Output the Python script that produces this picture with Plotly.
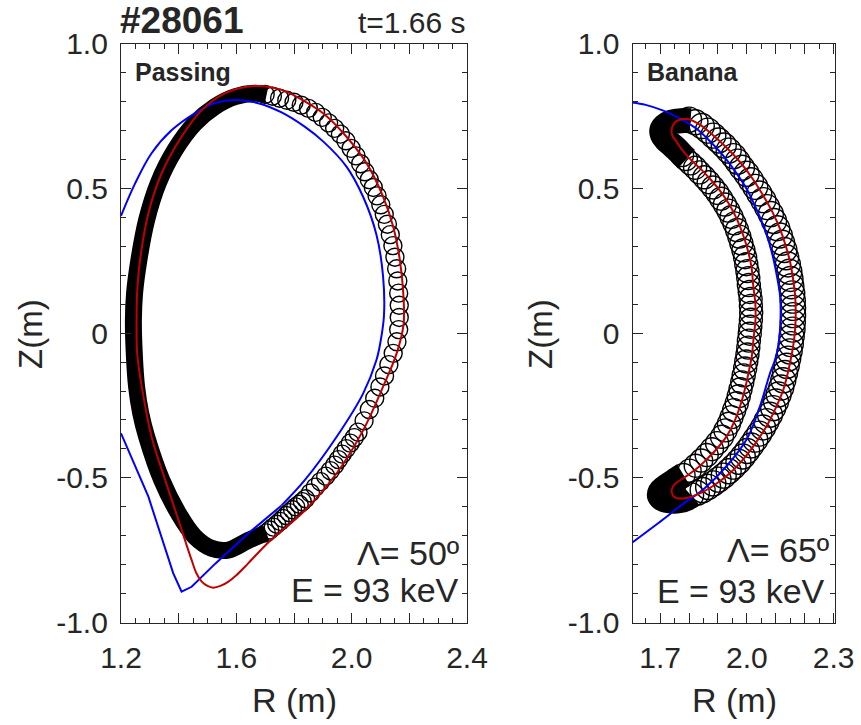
import plotly.graph_objects as go

# ---------------- data ----------------
# Passing orbit panel
pass_blue_R = [1.200, 1.249, 1.306, 1.376, 1.456, 1.526, 1.595, 1.676, 1.757, 1.838, 1.901,
               1.982, 2.040, 2.086, 2.109, 2.112, 2.100, 2.086, 2.040, 1.948, 1.838, 1.757]
pass_blue_Z = [0.405, 0.517, 0.621, 0.701, 0.759, 0.794, 0.805, 0.794, 0.762, 0.712, 0.662,
               0.575, 0.470, 0.340, 0.195, 0.060, -0.030, -0.093, -0.208, -0.358, -0.507, -0.595]
pass_blue_low_R = [1.757, 1.641, 1.526, 1.445, 1.410, 1.381, 1.295, 1.200]
pass_blue_low_Z = [-0.595, -0.692, -0.797, -0.876, -0.893, -0.829, -0.565, -0.346]

pass_red_R = [1.664, 1.757, 1.838, 1.901, 1.982, 2.052, 2.109, 2.144, 2.167, 2.179, 2.180,
              2.156, 2.109, 2.040, 1.948, 1.835, 1.716, 1.641, 1.600, 1.570, 1.545, 1.520,
              1.500, 1.480, 1.462, 1.445, 1.399, 1.353, 1.306, 1.272, 1.256, 1.254, 1.256,
              1.266, 1.295, 1.341, 1.410, 1.480, 1.560, 1.664]
pass_red_Z = [0.853, 0.840, 0.800, 0.759, 0.678, 0.586, 0.471, 0.367, 0.253, 0.137, 0.030,
              -0.070, -0.185, -0.335, -0.484, -0.615, -0.718, -0.795, -0.836, -0.860, -0.873, -0.879,
              -0.873, -0.858, -0.830, -0.784, -0.645, -0.507, -0.358, -0.185, -0.070, 0.045, 0.140,
              0.252, 0.414, 0.552, 0.678, 0.770, 0.828, 0.853]

# dense (unresolved) part of the full gyro-orbit
pass_band_R = [1.705, 1.664, 1.595, 1.526, 1.456, 1.387, 1.329, 1.289, 1.262, 1.247, 1.243,
               1.246, 1.254, 1.268, 1.289, 1.341, 1.399, 1.456, 1.514, 1.572, 1.641, 1.704]
pass_band_Z = [0.823, 0.828, 0.816, 0.782, 0.724, 0.632, 0.517, 0.391, 0.252, 0.137, 0.045,
               -0.070, -0.185, -0.275, -0.358, -0.507, -0.622, -0.703, -0.743, -0.749, -0.716, -0.690]

# resolved gyro loops (loop centres)
pass_loop_R = [1.700, 1.725, 1.750, 1.775, 1.800, 1.825, 1.850, 1.875, 1.898, 1.920,
               1.941, 1.961, 1.980, 1.998, 2.015, 2.031, 2.046, 2.061, 2.075, 2.088,
               2.101, 2.113, 2.124, 2.134, 2.143, 2.150, 2.156, 2.160, 2.163, 2.165,
               2.165, 2.163, 2.157, 2.144, 2.129, 2.114, 2.098, 2.080, 2.061, 2.043,
               2.022, 2.009, 1.995, 1.981, 1.967, 1.954, 1.941, 1.926, 1.910, 1.892,
               1.874, 1.857, 1.840, 1.829, 1.818, 1.806, 1.795, 1.784, 1.773, 1.762,
               1.752, 1.740, 1.728, 1.716, 1.704]
pass_loop_Z = [0.824, 0.818, 0.811, 0.804, 0.797, 0.787, 0.776, 0.762, 0.745, 0.726,
               0.707, 0.687, 0.664, 0.638, 0.612, 0.585, 0.557, 0.530, 0.503, 0.474,
               0.443, 0.410, 0.376, 0.340, 0.302, 0.262, 0.222, 0.180, 0.138, 0.096,
               0.054, 0.012, -0.030, -0.070, -0.109, -0.148, -0.186, -0.225, -0.264, -0.303,
               -0.342, -0.361, -0.380, -0.399, -0.418, -0.437, -0.456, -0.475, -0.494, -0.513,
               -0.532, -0.552, -0.572, -0.582, -0.591, -0.600, -0.610, -0.620, -0.630, -0.640,
               -0.650, -0.660, -0.670, -0.680, -0.690]

# Banana orbit panel
ban_blue_R = [1.596, 1.650, 1.711, 1.770, 1.827, 1.875, 1.919, 1.962, 2.000, 2.030, 2.057,
              2.077, 2.092, 2.105, 2.115, 2.117, 2.115, 2.108, 2.095, 2.081, 2.046, 2.000,
              1.931, 1.850, 1.769, 1.711, 1.596]
ban_blue_Z = [0.797, 0.788, 0.768, 0.740, 0.705, 0.660, 0.612, 0.555, 0.497, 0.435, 0.371,
              0.313, 0.256, 0.192, 0.129, 0.070, 0.014, -0.050, -0.100, -0.136, -0.251, -0.366,
              -0.458, -0.539, -0.597, -0.643, -0.729]

ban_red_R = [1.758, 1.792, 1.840, 1.884, 1.930, 1.977, 2.020, 2.057, 2.090, 2.115, 2.135,
             2.150, 2.160, 2.167, 2.169, 2.167, 2.161, 2.150, 2.127, 2.100, 2.069, 2.030,
             1.988, 1.940, 1.884, 1.830, 1.781, 1.752, 1.740, 1.746, 1.792, 1.830, 1.862,
             1.900, 1.931, 1.957, 1.977, 1.993, 2.006, 2.017, 2.023, 2.030, 2.029, 2.022,
             2.017, 2.005, 1.988, 1.967, 1.942, 1.910, 1.873, 1.840, 1.804, 1.778, 1.758,
             1.742, 1.740, 1.758]
ban_red_Z = [0.733, 0.739, 0.718, 0.682, 0.640, 0.590, 0.533, 0.474, 0.415, 0.359, 0.300,
             0.244, 0.186, 0.129, 0.070, 0.014, -0.040, -0.100, -0.193, -0.258, -0.320, -0.380,
             -0.435, -0.485, -0.527, -0.557, -0.571, -0.568, -0.550, -0.527, -0.493, -0.465, -0.435,
             -0.395, -0.355, -0.305, -0.251, -0.195, -0.136, -0.080, -0.021, 0.050, 0.106, 0.165,
             0.221, 0.280, 0.336, 0.390, 0.440, 0.488, 0.532, 0.567, 0.601, 0.630, 0.659,
             0.683, 0.705, 0.733]

ban_tip_top_R = [1.791, 1.776, 1.758, 1.738, 1.720, 1.708, 1.706, 1.716, 1.735, 1.760, 1.785, 1.805]
ban_tip_top_Z = [0.601, 0.615, 0.634, 0.652, 0.668, 0.685, 0.702, 0.716, 0.727, 0.732, 0.734, 0.733]
ban_tip_bot_R = [1.781, 1.760, 1.738, 1.716, 1.700, 1.698, 1.712, 1.738, 1.766, 1.792, 1.807]
ban_tip_bot_Z = [-0.490, -0.503, -0.518, -0.533, -0.548, -0.563, -0.575, -0.580, -0.579, -0.571, -0.560]

ban_outer_R = [1.800, 1.822, 1.844, 1.865, 1.884, 1.902, 1.920, 1.937, 1.954, 1.968,
               1.983, 1.999, 2.014, 2.029, 2.043, 2.057, 2.070, 2.083, 2.094, 2.105,
               2.114, 2.122, 2.130, 2.136, 2.142, 2.147, 2.151, 2.154, 2.157, 2.159,
               2.160, 2.160, 2.159, 2.158, 2.155, 2.152, 2.148, 2.143, 2.138, 2.132,
               2.126, 2.119, 2.110, 2.101, 2.091, 2.080, 2.068, 2.056, 2.043, 2.029,
               2.015, 2.001, 1.986, 1.971, 1.954, 1.937, 1.920, 1.902, 1.884, 1.866,
               1.847, 1.827, 1.807]
ban_outer_Z = [0.737, 0.728, 0.715, 0.699, 0.682, 0.665, 0.648, 0.630, 0.611, 0.592,
               0.571, 0.550, 0.528, 0.505, 0.482, 0.459, 0.435, 0.411, 0.387, 0.362,
               0.337, 0.312, 0.287, 0.262, 0.237, 0.212, 0.187, 0.162, 0.137, 0.112,
               0.087, 0.062, 0.037, 0.012, -0.013, -0.038, -0.063, -0.088, -0.113, -0.138,
               -0.163, -0.188, -0.212, -0.236, -0.259, -0.282, -0.304, -0.326, -0.347, -0.368,
               -0.388, -0.407, -0.426, -0.444, -0.461, -0.477, -0.492, -0.506, -0.519, -0.531,
               -0.542, -0.552, -0.560]

ban_inner_R = [1.781, 1.802, 1.823, 1.842, 1.861, 1.879, 1.897, 1.914, 1.926, 1.938,
               1.947, 1.956, 1.965, 1.972, 1.978, 1.984, 1.989, 1.994, 1.998, 2.002,
               2.005, 2.007, 2.010, 2.012, 2.014, 2.015, 2.014, 2.013, 2.010, 2.007,
               2.005, 2.002, 1.998, 1.994, 1.988, 1.981, 1.974, 1.966, 1.957, 1.947,
               1.936, 1.924, 1.911, 1.898, 1.883, 1.868, 1.853, 1.836, 1.821, 1.805,
               1.789, 1.776]
ban_inner_Z = [-0.490, -0.475, -0.458, -0.440, -0.421, -0.401, -0.380, -0.358, -0.336, -0.313,
               -0.290, -0.266, -0.242, -0.218, -0.194, -0.170, -0.146, -0.122, -0.098, -0.074,
               -0.050, -0.026, -0.002, 0.022, 0.046, 0.070, 0.094, 0.118, 0.142, 0.166,
               0.190, 0.214, 0.238, 0.262, 0.286, 0.310, 0.333, 0.356, 0.379, 0.401,
               0.423, 0.444, 0.464, 0.484, 0.503, 0.521, 0.538, 0.555, 0.571, 0.586,
               0.601, 0.615]

# axis ticks
left_x_ticks = [1.2, 1.4, 1.6, 1.8, 2.0, 2.2, 2.4]
left_x_text = ["1.2", "", "1.6", "", "2.0", "", "2.4"]
right_x_ticks = [1.7, 1.8, 1.9, 2.0, 2.1, 2.2, 2.3]
right_x_text = ["1.7", "", "", "2.0", "", "", "2.3"]
y_ticks = [-1.0, -0.5, 0.0, 0.5, 1.0]
y_text = ["-1.0", "-0.5", "0", "0.5", "1.0"]

# ---------------- figure ----------------
W, H = 861, 725
FONT = "Liberation Sans, Arial, sans-serif"
AX = "#262626"
BLUE = "#0000FF"
RED = "#C00000"

fig = go.Figure()


def add(tr, panel):
    if panel == 2:
        tr.update(xaxis="x2", yaxis="y2")
    fig.add_trace(tr)


# left panel
add(go.Scatter(x=pass_band_R, y=pass_band_Z, mode="lines",
               line=dict(color="black", width=17, shape="spline"), hoverinfo="skip"), 1)
add(go.Scatter(x=pass_loop_R, y=pass_loop_Z, mode="markers",
               marker=dict(symbol="circle-open", size=18, color="black", line=dict(width=1.4)),
               hoverinfo="skip"), 1)
add(go.Scatter(x=pass_blue_R, y=pass_blue_Z, mode="lines",
               line=dict(color=BLUE, width=2, shape="spline")), 1)
add(go.Scatter(x=pass_blue_low_R, y=pass_blue_low_Z, mode="lines",
               line=dict(color=BLUE, width=2)), 1)
add(go.Scatter(x=pass_red_R, y=pass_red_Z, mode="lines",
               line=dict(color=RED, width=2, shape="spline")), 1)

# right panel
for bx, bz in ((ban_tip_top_R, ban_tip_top_Z), (ban_tip_bot_R, ban_tip_bot_Z)):
    add(go.Scatter(x=bx, y=bz, mode="lines",
                   line=dict(color="black", width=25, shape="spline"), hoverinfo="skip"), 2)
add(go.Scatter(x=ban_outer_R, y=ban_outer_Z, mode="markers",
               marker=dict(symbol="circle-open", size=25, color="black", line=dict(width=1.4)),
               hoverinfo="skip"), 2)
add(go.Scatter(x=ban_inner_R, y=ban_inner_Z, mode="markers",
               marker=dict(symbol="circle-open", size=23, color="black", line=dict(width=1.4)),
               hoverinfo="skip"), 2)
add(go.Scatter(x=ban_blue_R, y=ban_blue_Z, mode="lines",
               line=dict(color=BLUE, width=2, shape="spline")), 2)
add(go.Scatter(x=ban_red_R, y=ban_red_Z, mode="lines",
               line=dict(color=RED, width=2, shape="spline")), 2)

y0 = (H - 622.7) / H
y1 = (H - 43.5) / H


def xaxis(dom, rng, tv, tt, tick0):
    return dict(domain=dom, range=rng, tickmode="array", tickvals=tv, ticktext=tt,
                ticks="inside", ticklen=10, tickwidth=1.2, tickcolor=AX,
                showline=True, linecolor=AX, linewidth=1.3, mirror="allticks",
                showgrid=False, zeroline=False, automargin=False,
                tickfont=dict(family=FONT, size=30, color=AX),
                ticklabelstandoff=8,
                minor=dict(ticks="inside", ticklen=5, tickwidth=1.2, tickcolor=AX,
                           tickmode="linear", tick0=tick0, dtick=0.05, showgrid=False))


def yaxis(anchor):
    return dict(domain=[y0, y1], range=[-1, 1], anchor=anchor, tickmode="array",
                tickvals=y_ticks, ticktext=y_text,
                ticks="inside", ticklen=10, tickwidth=1.2, tickcolor=AX,
                showline=True, linecolor=AX, linewidth=1.3, mirror="allticks",
                showgrid=False, zeroline=False, automargin=False,
                tickfont=dict(family=FONT, size=30, color=AX),
                ticklabelstandoff=6,
                minor=dict(ticks="inside", ticklen=5, tickwidth=1.2, tickcolor=AX,
                           tickmode="linear", tick0=0, dtick=0.1, showgrid=False))


xa1 = xaxis([121 / W, 467 / W], [1.2, 2.4], left_x_ticks, left_x_text, 1.2)
xa1["anchor"] = "y"
xa2 = xaxis([632.7 / W, 835 / W], [1.605, 2.305], right_x_ticks, right_x_text, 1.6)
xa2["anchor"] = "y2"

ann = []


def text(s, x, y, size, xanchor="center", bold=False, angle=0):
    ann.append(dict(text=f"<b>{s}</b>" if bold else s, x=x / W, y=(H - y) / H,
                    xref="paper", yref="paper", xanchor=xanchor, yanchor="middle",
                    showarrow=False, textangle=angle,
                    font=dict(family=FONT, size=size, color=AX)))


text("#28061", 118, 20, 37, "left", bold=True)
text("t=1.66 s", 468, 23, 30, "right")
text("Passing", 133, 72, 25, "left", bold=True)
text("Banana", 645, 72, 25, "left", bold=True)
text("Λ= 50º", 461, 553, 34, "right")
text("E = 93 keV", 461, 590, 34, "right")
text("Λ= 65º", 831, 550, 34, "right")
text("E = 93 keV", 827, 591, 34, "right")
text("R (m)", 294, 700, 34)
text("R (m)", 734, 700, 34)
text("Z(m)", 30, 334, 33, angle=-90)
text("Z(m)", 540, 334, 33, angle=-90)

fig.update_layout(
    width=W, height=H, margin=dict(l=0, r=0, t=0, b=0, pad=0, autoexpand=False),
    paper_bgcolor="white", plot_bgcolor="white", showlegend=False,
    xaxis=xa1, yaxis=yaxis("x"), xaxis2=xa2, yaxis2=yaxis("x2"),
    annotations=ann,
)

fig.write_html("out.html")
